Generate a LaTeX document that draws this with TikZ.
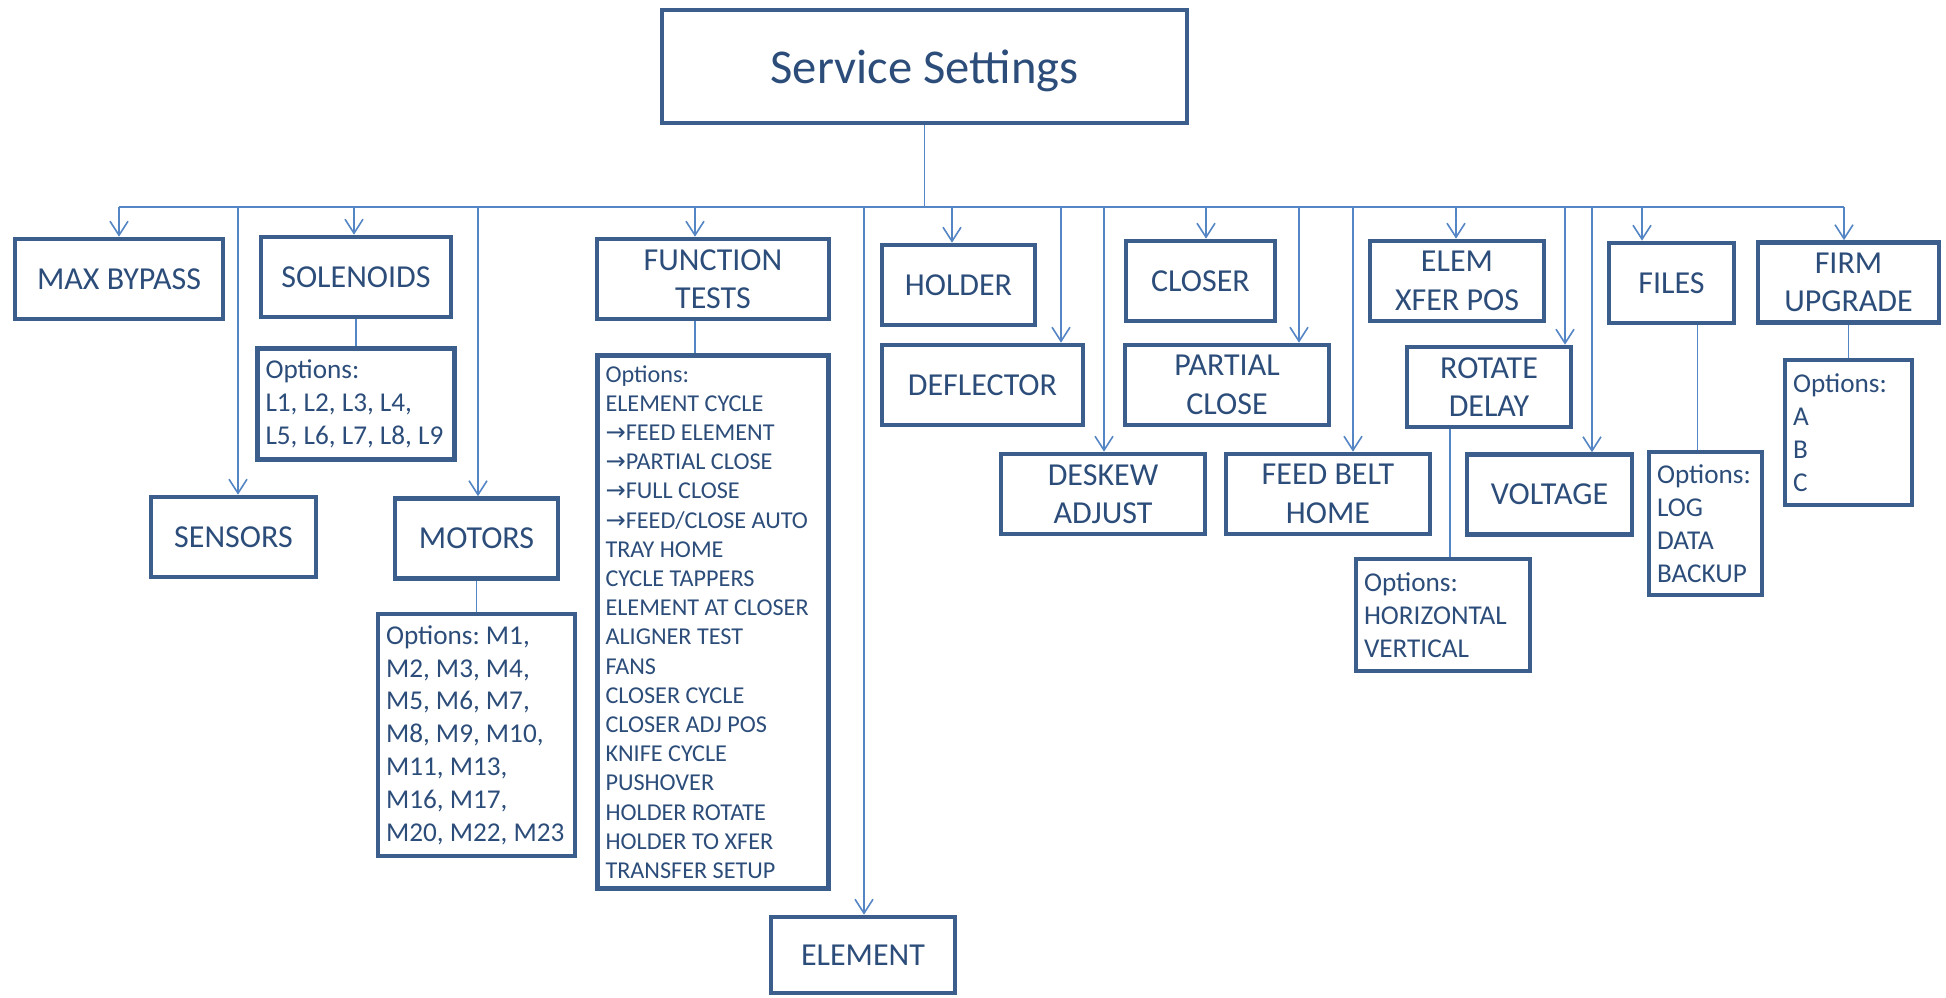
\documentclass[tikz,border=0pt]{standalone}
\usepackage{fontspec}
\setmainfont{Carlito}
\newfontfamily\arrowfont{DejaVu Sans}
\usetikzlibrary{arrows.meta, positioning}
\definecolor{boxblue}{RGB}{59,94,140}
\definecolor{textblue}{RGB}{44,77,122}
\definecolor{lineblue}{RGB}{84,133,196}
\newcommand{\farrow}{{\arrowfont\char"2192}}

\begin{document}
\begin{tikzpicture}[
        x=0.5pt, y=-0.5pt,
        box/.style={
            draw=boxblue,
            line width=2.3pt,
            rectangle,
            inner sep=0pt,
            minimum height=40pt,
            align=flush center,
            text=textblue,
            font=\fontsize{16pt}{19.2pt}\selectfont
        },
        opts/.style={
            box,
            align=flush left,
            inner xsep=4pt,
            font=\fontsize{13.6pt}{16.4pt}\selectfont
        },
        link/.style={draw=lineblue, line width=0.8pt},
        arrow/.style={link, -{Straight Barb[length=7pt, width=9pt]}}
    ]

    \useasboundingbox (0,0) rectangle (1946,997);

    \node[box, minimum width=262.5pt, minimum height=56.5pt, text depth=0pt,
          font=\fontsize{24.3pt}{29pt}\selectfont] (root) at (924.5,66.5) {Service Settings};

    \node[box, minimum width=104pt] (maxb) at (119,279) {MAX BYPASS};
    \node[box, minimum width=95pt] (sol) at (356,277) {SOLENOIDS};
    \node[box, minimum width=116pt] (func) at (713,279) {FUNCTION\\ TESTS};
    \node[box, minimum width=76.5pt] (hold) at (958.5,285) {HOLDER};
    \node[box, minimum width=74.5pt] (clos) at (1200.5,281) {CLOSER};
    \node[box, minimum width=87pt] (xfer) at (1457,281) {ELEM\\ XFER POS};
    \node[box, minimum width=62.5pt] (files) at (1671.5,283) {FILES};
    \node[box, minimum width=90.5pt] (firm) at (1848.5,282.5) {FIRM\\ UPGRADE};

    \node[box, minimum width=82.5pt] (sens) at (233.5,537) {SENSORS};
    \node[box, minimum width=81.5pt] (mot) at (476.5,538.5) {MOTORS};
    \node[box, minimum width=92pt, minimum height=38pt] (element) at (863,955) {ELEMENT};
    \node[box, minimum width=100.5pt] (defl) at (982.5,385) {DEFLECTOR};
    \node[box, minimum width=102pt] (desk) at (1103,494) {DESKEW\\ ADJUST};
    \node[box, minimum width=102pt] (part) at (1227,385) {PARTIAL\\ CLOSE};
    \node[box, minimum width=102pt] (feed) at (1328,494) {FEED BELT\\ HOME};
    \node[box, minimum width=82pt] (rot) at (1489,387) {ROTATE\\ DELAY};
    \node[box, minimum width=82.5pt] (volt) at (1549.5,494.5) {VOLTAGE};

    \node[opts, text width=90.5pt, minimum height=55.5pt, below=13.5pt of sol] (solopt)
        {Options:\\ L1,~L2,~L3,~L4,\\ L5,~L6,~L7,~L8,~L9};
    \node[opts, text width=90.5pt, minimum height=121pt, below=15.5pt of mot] (motopt)
        {Options:~M1,\\ M2,~M3,~M4,\\ M5,~M6,~M7,\\ M8,~M9,~M10,\\ M11,~M13,\\ M16,~M17,\\ M20,~M22,~M23};
    \node[opts, text width=107.5pt, minimum height=266.5pt, below=16pt of func,
          font=\fontsize{12.1pt}{14.6pt}\selectfont] (funcopt)
        {Options:\\ ELEMENT~CYCLE\\ \farrow FEED~ELEMENT\\ \farrow PARTIAL~CLOSE\\
         \farrow FULL~CLOSE\\ \farrow FEED/CLOSE~AUTO\\ TRAY~HOME\\ CYCLE~TAPPERS\\
         ELEMENT~AT~CLOSER\\ ALIGNER~TEST\\ FANS\\ CLOSER~CYCLE\\ CLOSER~ADJ~POS\\
         KNIFE~CYCLE\\ PUSHOVER\\ HOLDER~ROTATE\\ HOLDER~TO~XFER\\ TRANSFER~SETUP};
    \node[opts, text width=79pt, minimum height=56pt] (rotopt) at (1443,615)
        {Options:\\ HORIZONTAL\\ VERTICAL};
    \node[opts, text width=48.5pt, minimum height=71.5pt] (filesopt) at (1705.5,523.5)
        {Options:\\ LOG\\ DATA\\ BACKUP};
    \node[opts, text width=55.5pt, minimum height=72.5pt, below=16.5pt of firm] (firmopt)
        {Options:\\ A\\ B\\ C};

    \foreach \name/\x in {bmax/119, bsens/238, bsol/354, bmot/478, bfunc/695, belem/864,
        bhold/952, bdefl/1061, bdesk/1104, bclos/1206, bpart/1299, bfeed/1353,
        bxfer/1456, brot/1565, bvolt/1592, bfiles/1642, bfirm/1844}
        \coordinate (\name) at (\x,207);

    \draw[link] (root.south) -- (root.south |- bmax);
    \draw[link] (bmax) -- (bfirm);

    \foreach \b/\n in {bmax/maxb, bsens/sens, bsol/sol, bmot/mot, bfunc/func,
        belem/element, bhold/hold, bdefl/defl, bdesk/desk, bclos/clos, bpart/part,
        bfeed/feed, bxfer/xfer, brot/rot, bvolt/volt, bfiles/files, bfirm/firm}
        \draw[arrow] (\b) -- (\b |- \n.north);

    \coordinate (rtap) at ([xshift=-19.5pt]rot.south);
    \coordinate (ftap) at ([xshift=13pt]files.south);

    \draw[link] (sol.south) -- (solopt.north);
    \draw[link] (mot.south) -- (motopt.north);
    \draw[link] (bfunc |- func.south) -- (bfunc |- funcopt.north);
    \draw[link] (rtap) -- (rtap |- rotopt.north);
    \draw[link] (ftap) -- (ftap |- filesopt.north);
    \draw[link] (firm.south) -- (firmopt.north);

\end{tikzpicture}
\end{document}
